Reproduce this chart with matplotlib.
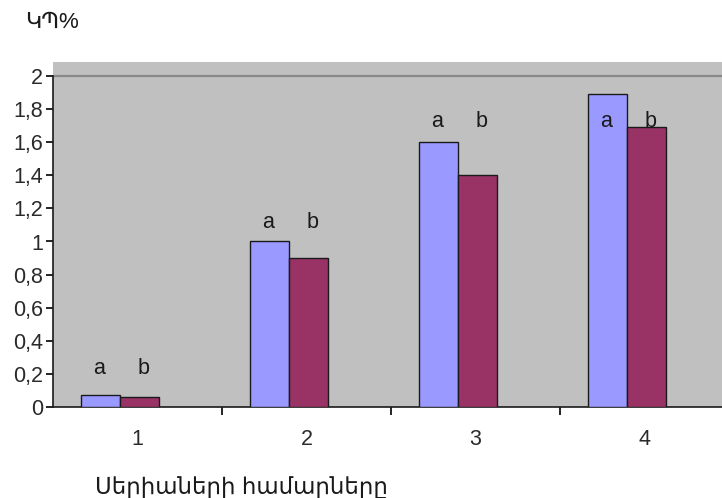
import numpy as np
import matplotlib.pyplot as plt

# data
categories = ['1', '2', '3', '4']
series_a = [0.07, 1.0, 1.6, 1.89]
series_b = [0.06, 0.9, 1.4, 1.69]
label_y = [0.17, 1.05, 1.66, 1.66]
yticks = [0, 0.2, 0.4, 0.6, 0.8, 1.0, 1.2, 1.4, 1.6, 1.8, 2.0]

plt.rcParams['font.family'] = ['Liberation Sans', 'DejaVu Sans']

fig = plt.figure(figsize=(7.22, 4.98), dpi=100)
ax = fig.add_axes([53 / 722, 1 - 407 / 498, 676 / 722, (407 - 62) / 498])
ax.set_facecolor('#c0c0c0')

x = np.arange(len(categories)) + 0.5
w = 0.23
off = -0.105
ax.bar(x + off - w / 2, series_a, w, color='#9999ff', edgecolor='#1a1a1a', linewidth=1, zorder=3)
ax.bar(x + off + w / 2, series_b, w, color='#993366', edgecolor='#1a1a1a', linewidth=1, zorder=3)

for i, ly in enumerate(label_y):
    ax.text(x[i] + off - 0.12, ly, 'a', ha='center', va='bottom', fontsize=15.5, color='#1a1a1a', zorder=4)
    ax.text(x[i] + off + 0.14, ly, 'b', ha='center', va='bottom', fontsize=15.5, color='#1a1a1a', zorder=4)

ax.axhline(2, color='#8a8a8a', lw=1.6, zorder=1)

ax.set_xlim(0, 4)
ax.set_ylim(0, 2 * 345 / 331)
ax.set_yticks(yticks)
ax.set_yticklabels([('%g' % t).replace('.', ',') for t in yticks])
ax.set_xticks(x)
ax.set_xticklabels(categories)
ax.set_xticks([1, 2, 3, 4], minor=True)

for s in ['top', 'right']:
    ax.spines[s].set_visible(False)
ax.spines['left'].set_bounds(0, 2)
ax.spines['left'].set_color('#1a1a1a')
ax.spines['bottom'].set_color('#1a1a1a')
ax.spines['left'].set_linewidth(1.2)
ax.spines['bottom'].set_linewidth(1.2)

ax.tick_params(axis='y', direction='out', length=5, width=1.2, labelsize=15.5, labelcolor='#2a2a2a', pad=2)
ax.tick_params(axis='x', which='major', length=0, labelsize=15.5, labelcolor='#2a2a2a', pad=16)
ax.tick_params(axis='x', which='minor', direction='out', length=6, width=1.2)

fig.text(25 / 722, 1 - 22 / 498, 'ԿՊ%', fontsize=16, va='center', ha='left', color='#1a1a1a')
fig.text(95 / 722, 1 - 487 / 498, 'Սերիաների համարները', fontsize=16.5, va='center', ha='left', color='#1a1a1a')

fig.savefig('out.png', dpi=100)
